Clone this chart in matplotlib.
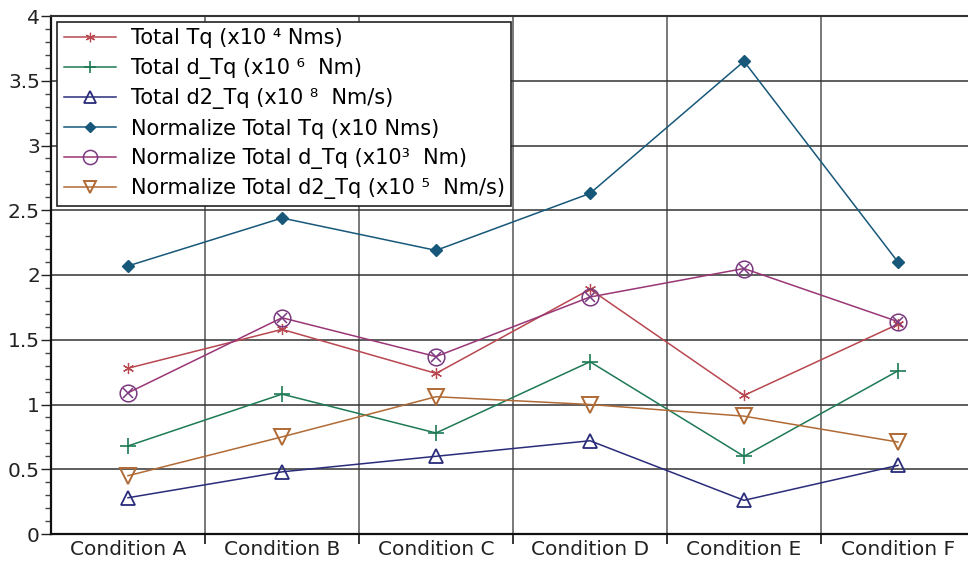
import matplotlib
matplotlib.use('Agg')
import matplotlib.pyplot as plt
import numpy as np
from matplotlib.ticker import MultipleLocator

plt.rcParams['font.family'] = ['DejaVu Sans']

# data
conditions = ['Condition A', 'Condition B', 'Condition C', 'Condition D', 'Condition E', 'Condition F']
total_tq = [1.28, 1.58, 1.24, 1.89, 1.07, 1.62]
total_dtq = [0.68, 1.08, 0.78, 1.33, 0.60, 1.26]
total_d2tq = [0.28, 0.48, 0.60, 0.72, 0.26, 0.53]
norm_tq = [2.07, 2.44, 2.19, 2.63, 3.65, 2.10]
norm_dtq = [1.09, 1.67, 1.37, 1.83, 2.05, 1.64]
norm_d2tq = [0.45, 0.75, 1.06, 1.00, 0.91, 0.71]

labels = [
    'Total Tq (x10 \u2074 Nms)',
    'Total d_Tq (x10 \u2076  Nm)',
    'Total d2_Tq (x10 \u2078  Nm/s)',
    'Normalize Total Tq (x10 Nms)',
    'Normalize Total d_Tq (x10\u00b3  Nm)',
    'Normalize Total d2_Tq (x10 \u2075  Nm/s)',
]

fig = plt.figure(figsize=(9.68, 5.65), dpi=100)
ax = fig.add_axes([51 / 968, 31 / 565, 924 / 968, 518 / 565])

x = np.arange(len(conditions))

ax.plot(x, total_tq, color='#b8474f', lw=1.1, marker=(6, 2, 0), ms=8, mew=0.9,
        label=labels[0])
ax.plot(x, total_dtq, color='#1e7a55', lw=1.1, marker='+', ms=11, mew=1.2,
        label=labels[1])
ax.plot(x, total_d2tq, color='#2a2c7a', lw=1.1, marker='^', ms=9.5, mfc='none', mew=1.3,
        label=labels[2])
ax.plot(x, norm_tq, color='#17587a', lw=1.1, marker='D', ms=6.5,
        label=labels[3])
ax.plot(x, norm_dtq, color='#9a3676', lw=1.1, marker='o', ms=12, mfc='none', mew=1.1,
        mec='#7a3a80', label=labels[4], zorder=3)
ax.plot(x, norm_dtq, color='none', lw=0, marker='x', ms=7, mew=1.1, mec='#7a3a80', zorder=3)
ax.plot(x, norm_d2tq, color='#b06a35', lw=1.1, marker='v', ms=11, mfc='none', mew=1.4,
        label=labels[5])

ax.set_xlim(-0.5, 5.5)
ax.set_ylim(0, 4)
ax.set_xticks(x)
ax.set_xticklabels(conditions)
ax.set_xticks(np.arange(0.5, 5.5, 1), minor=True)
ax.yaxis.set_major_locator(MultipleLocator(0.5))
ax.yaxis.set_minor_locator(MultipleLocator(0.1))
ax.yaxis.set_major_formatter(matplotlib.ticker.FuncFormatter(lambda v, p: f'{v:g}'))

ax.grid(axis='y', which='major', color='#333333', lw=1.1)
ax.grid(axis='x', which='minor', color='#555555', lw=1.1)
ax.set_axisbelow(True)

ax.tick_params(axis='x', which='major', length=0, labelsize=14.5, pad=4, colors='#222222')
ax.tick_params(axis='x', which='minor', length=7, width=1.1, direction='out')
ax.tick_params(axis='y', which='major', length=7, width=1, labelsize=14.5, pad=1, colors='#222222')
ax.tick_params(axis='y', which='minor', length=4, width=1, color='#444444')

for s in ['left', 'bottom']:
    ax.spines[s].set_linewidth(1.6)
    ax.spines[s].set_color('#111111')
ax.spines['top'].set_linewidth(1.5)
ax.spines['top'].set_color('#333333')
ax.spines['right'].set_visible(False)

leg = ax.legend(loc='upper left', bbox_to_anchor=(0.0, 1.0), borderaxespad=0.3, fontsize=15,
                frameon=True, fancybox=False, edgecolor='#222222', framealpha=1,
                handlelength=2.5, borderpad=0.3, labelspacing=0.45, handletextpad=0.75,
                markerscale=0.85)
leg.get_frame().set_linewidth(1.2)

fig.savefig('out.png', dpi=100)
